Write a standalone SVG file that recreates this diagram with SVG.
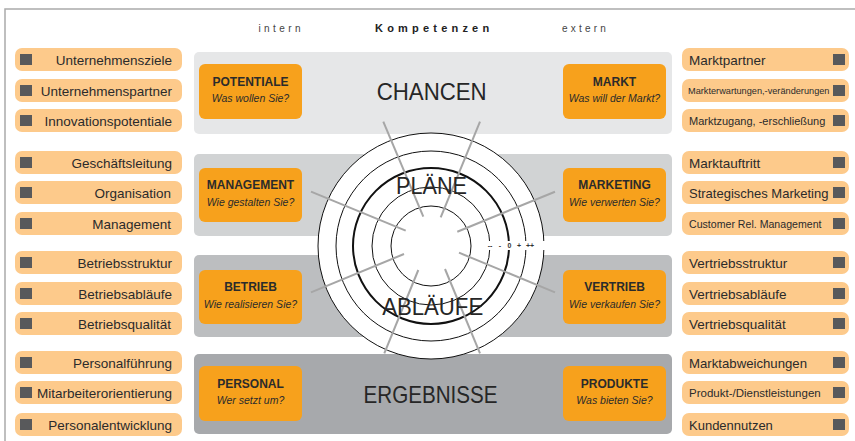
<svg xmlns="http://www.w3.org/2000/svg" width="855" height="441" viewBox="0 0 855 441">
<style>
  text { font-family: "Liberation Sans", Arial, sans-serif; }
  .li { fill: #fdca8b; }
  .sq { fill: #58595b; }
  .lt { fill: #2b2b2b; }
  .ltl { font-size: 13.5px; fill: #2b2b2b; text-anchor: end; }
  .ob { fill: #f7a11c; }
  .ot { font-size: 12px; font-weight: bold; fill: #2b2b2b; text-anchor: middle; }
  .os { font-size: 10.5px; font-style: italic; fill: #2b2b2b; text-anchor: middle; }
  .big { font-size: 24px; fill: #262626; text-anchor: middle; }
  .hd { font-size: 10px; fill: #444; }
  .ring { fill: none; stroke: #111; stroke-width: 1; }
  .ray { stroke: #a6a6a6; stroke-width: 2; }
  .sc { font-size: 7px; font-weight: bold; fill: #333; text-anchor: middle; }
</style>

<path d="M5,441 V9 H855" fill="none" stroke="#aaaaaa" stroke-width="1.5"/>

<g id="header">
  <text class="hd" x="258.5" y="32" letter-spacing="3.4">intern</text>
  <text x="375" y="32" font-size="11" font-weight="bold" fill="#222" letter-spacing="4.2">Kompetenzen</text>
  <text class="hd" x="562" y="32" letter-spacing="3.2">extern</text>
</g>

<g id="bands">
  <rect x="194" y="52" width="478" height="82" rx="5" fill="#e6e7e8"/>
  <rect x="194" y="154" width="478" height="82" rx="5" fill="#d1d3d4"/>
  <rect x="194" y="255" width="478" height="82" rx="5" fill="#bcbec0"/>
  <rect x="194" y="354" width="478" height="80" rx="5" fill="#a7a9ac"/>
</g>

<g id="left-list">
  <g id="l1"><rect class="li" x="15" y="48" width="167" height="23" rx="7"/><rect class="sq" x="20" y="54" width="12" height="11"/><text class="ltl" x="172" y="64.5">Unternehmensziele</text></g>
  <g id="l2"><rect class="li" x="15" y="79" width="167" height="23" rx="7"/><rect class="sq" x="20" y="85" width="12" height="11"/><text class="ltl" x="172" y="95.5">Unternehmenspartner</text></g>
  <g id="l3"><rect class="li" x="15" y="109" width="167" height="23" rx="7"/><rect class="sq" x="20" y="115" width="12" height="11"/><text class="ltl" x="172" y="125.5">Innovationspotentiale</text></g>
  <g id="l4"><rect class="li" x="15" y="151" width="167" height="23" rx="7"/><rect class="sq" x="20" y="157" width="12" height="11"/><text class="ltl" x="172" y="167.5">Geschäftsleitung</text></g>
  <g id="l5"><rect class="li" x="15" y="181" width="167" height="23" rx="7"/><rect class="sq" x="20" y="187" width="12" height="11"/><text class="ltl" x="171" y="197.5">Organisation</text></g>
  <g id="l6"><rect class="li" x="15" y="212" width="167" height="23" rx="7"/><rect class="sq" x="20" y="218" width="12" height="11"/><text class="ltl" x="171" y="228.5">Management</text></g>
  <g id="l7"><rect class="li" x="15" y="251" width="167" height="23" rx="7"/><rect class="sq" x="20" y="257" width="12" height="11"/><text class="ltl" x="172" y="267.5">Betriebsstruktur</text></g>
  <g id="l8"><rect class="li" x="15" y="282" width="167" height="23" rx="7"/><rect class="sq" x="20" y="288" width="12" height="11"/><text class="ltl" x="172" y="298.5">Betriebsabläufe</text></g>
  <g id="l9"><rect class="li" x="15" y="312" width="167" height="23" rx="7"/><rect class="sq" x="20" y="318" width="12" height="11"/><text class="ltl" x="171" y="328.5">Betriebsqualität</text></g>
  <g id="l10"><rect class="li" x="15" y="351" width="167" height="23" rx="7"/><rect class="sq" x="20" y="357" width="12" height="11"/><text class="ltl" x="172" y="367.5">Personalführung</text></g>
  <g id="l11"><rect class="li" x="15" y="381" width="167" height="23" rx="7"/><rect class="sq" x="20" y="387" width="12" height="11"/><text class="ltl" x="172" y="397.5">Mitarbeiterorientierung</text></g>
  <g id="l12"><rect class="li" x="15" y="413" width="167" height="23" rx="7"/><rect class="sq" x="20" y="419" width="12" height="11"/><text class="ltl" x="172" y="429.5">Personalentwicklung</text></g>
</g>

<g id="right-list">
  <g id="r1"><rect class="li" x="682" y="48" width="167" height="23" rx="7"/><rect class="sq" x="833" y="54" width="12" height="11"/><text class="lt" style="font-size:13.5px" x="689" y="64.5">Marktpartner</text></g>
  <g id="r2"><rect class="li" x="682" y="79" width="167" height="23" rx="7"/><rect class="sq" x="833" y="85" width="12" height="11"/><text class="lt" style="font-size:9.2px" x="688" y="94">Markterwartungen,-veränderungen</text></g>
  <g id="r3"><rect class="li" x="682" y="109" width="167" height="23" rx="7"/><rect class="sq" x="833" y="115" width="12" height="11"/><text class="lt" style="font-size:11px" x="689" y="125">Marktzugang, -erschließung</text></g>
  <g id="r4"><rect class="li" x="682" y="151" width="167" height="23" rx="7"/><rect class="sq" x="833" y="157" width="12" height="11"/><text class="lt" style="font-size:13.5px" x="689" y="167.5">Marktauftritt</text></g>
  <g id="r5"><rect class="li" x="682" y="181" width="167" height="23" rx="7"/><rect class="sq" x="833" y="187" width="12" height="11"/><text class="lt" style="font-size:13px" x="689" y="197.5">Strategisches Marketing</text></g>
  <g id="r6"><rect class="li" x="682" y="212" width="167" height="23" rx="7"/><rect class="sq" x="833" y="218" width="12" height="11"/><text class="lt" style="font-size:10.6px" x="689" y="227.5">Customer Rel. Management</text></g>
  <g id="r7"><rect class="li" x="682" y="251" width="167" height="23" rx="7"/><rect class="sq" x="833" y="257" width="12" height="11"/><text class="lt" style="font-size:13.5px" x="689" y="267.5">Vertriebsstruktur</text></g>
  <g id="r8"><rect class="li" x="682" y="282" width="167" height="23" rx="7"/><rect class="sq" x="833" y="288" width="12" height="11"/><text class="lt" style="font-size:13.5px" x="689" y="298.5">Vertriebsabläufe</text></g>
  <g id="r9"><rect class="li" x="682" y="312" width="167" height="23" rx="7"/><rect class="sq" x="833" y="318" width="12" height="11"/><text class="lt" style="font-size:13.5px" x="689" y="328.5">Vertriebsqualität</text></g>
  <g id="r10"><rect class="li" x="682" y="351" width="167" height="23" rx="7"/><rect class="sq" x="833" y="357" width="12" height="11"/><text class="lt" style="font-size:13.2px" x="689" y="367.5">Marktabweichungen</text></g>
  <g id="r11"><rect class="li" x="682" y="381" width="167" height="23" rx="7"/><rect class="sq" x="833" y="387" width="12" height="11"/><text class="lt" style="font-size:11.5px" x="689" y="397">Produkt-/Dienstleistungen</text></g>
  <g id="r12"><rect class="li" x="682" y="413" width="167" height="23" rx="7"/><rect class="sq" x="833" y="419" width="12" height="11"/><text class="lt" style="font-size:13px" x="689" y="429.5">Kundennutzen</text></g>
</g>

<g id="potentiale"><rect class="ob" x="199" y="64" width="103" height="55" rx="6"/><text class="ot" x="250.5" y="86">POTENTIALE</text><text class="os" x="250.5" y="102">Was wollen Sie?</text></g>
<g id="markt"><rect class="ob" x="563" y="64" width="103" height="55" rx="6"/><text class="ot" x="614.5" y="86">MARKT</text><text class="os" x="614.5" y="102">Was will der Markt?</text></g>
<g id="management"><rect class="ob" x="199" y="168" width="103" height="54" rx="6"/><text class="ot" x="250.5" y="189">MANAGEMENT</text><text class="os" x="250.5" y="205.5">Wie gestalten Sie?</text></g>
<g id="marketing"><rect class="ob" x="563" y="168" width="103" height="54" rx="6"/><text class="ot" x="614.5" y="189">MARKETING</text><text class="os" x="614.5" y="205.5">Wie verwerten Sie?</text></g>
<g id="betrieb"><rect class="ob" x="199" y="270" width="103" height="54" rx="6"/><text class="ot" x="250.5" y="291">BETRIEB</text><text class="os" x="250.5" y="307.5">Wie realisieren Sie?</text></g>
<g id="vertrieb"><rect class="ob" x="563" y="270" width="103" height="54" rx="6"/><text class="ot" x="614.5" y="291">VERTRIEB</text><text class="os" x="614.5" y="307.5">Wie verkaufen Sie?</text></g>
<g id="personal"><rect class="ob" x="199" y="366" width="103" height="55" rx="6"/><text class="ot" x="250.5" y="388">PERSONAL</text><text class="os" x="250.5" y="404">Wer setzt um?</text></g>
<g id="produkte"><rect class="ob" x="563" y="366" width="103" height="55" rx="6"/><text class="ot" x="614.5" y="388">PRODUKTE</text><text class="os" x="614.5" y="404">Was bieten Sie?</text></g>

<g id="target">
  <circle cx="431" cy="246" r="113" fill="#ffffff" stroke="#111" stroke-width="1"/>
  <circle class="ring" cx="431" cy="246" r="95"/>
  <circle class="ring" cx="431" cy="246" r="78" style="stroke-width:2"/>
  <circle class="ring" cx="431" cy="246" r="59"/>
  <circle class="ring" cx="431" cy="246" r="40"/>
</g>

<g id="connectors">
  <line class="ray" x1="383.3" y1="121.7" x2="423.3" y2="216.7"/>
  <line class="ray" x1="480" y1="121.7" x2="440.7" y2="217.3"/>
  <line class="ray" x1="311" y1="191.7" x2="405.7" y2="230.7"/>
  <line class="ray" x1="555" y1="191.7" x2="457.3" y2="231.7"/>
  <line class="ray" x1="311" y1="292.3" x2="404" y2="254"/>
  <line class="ray" x1="555" y1="292.3" x2="459" y2="252.7"/>
  <line class="ray" x1="384.3" y1="353.3" x2="418.3" y2="270"/>
  <line class="ray" x1="480" y1="353.3" x2="445" y2="269"/>
</g>

<g id="scale">
  <rect x="486" y="241" width="61" height="9" fill="#ffffff"/>
  <text class="sc" x="490" y="248">--</text>
  <text class="sc" x="500" y="248">-</text>
  <text class="sc" x="509.5" y="248">0</text>
  <text class="sc" x="519" y="248">+</text>
  <text class="sc" x="530" y="248">++</text>
</g>

<g id="labels">
  <text class="big" x="431.7" y="100" textLength="110" lengthAdjust="spacingAndGlyphs">CHANCEN</text>
  <text class="big" x="431.5" y="194" textLength="71" lengthAdjust="spacingAndGlyphs">PLÄNE</text>
  <text class="big" x="432.7" y="315" textLength="101" lengthAdjust="spacingAndGlyphs">ABLÄUFE</text>
  <text class="big" x="430.5" y="403" textLength="134" lengthAdjust="spacingAndGlyphs">ERGEBNISSE</text>
</g>
</svg>
